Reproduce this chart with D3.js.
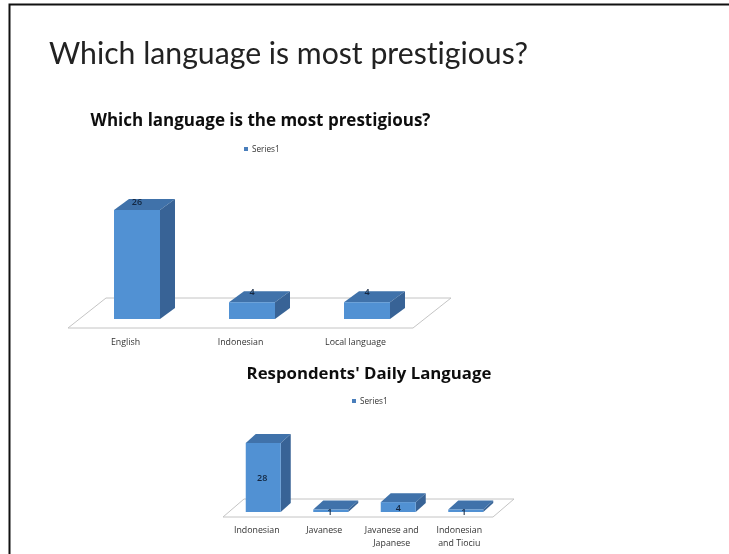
<!DOCTYPE html>
<html>
<head>
<meta charset="utf-8">
<title>Which language is most prestigious?</title>
<script src="https://cdn.jsdelivr.net/npm/d3@7"></script>
<style>
    html, body { margin: 0; padding: 0; background: #fff; }
    svg { display: block; }
    .chart-title { font-family: "Open Sans", sans-serif; font-weight: 700; fill: #111; text-anchor: middle; }
    .small { font-family: "Open Sans", sans-serif; fill: #333; }
</style>
</head>
<body>
<div id="slide"></div>
<script>
const slideTitle = "Which language is most prestigious?";
const seriesName = "Series1";

const prestigeTitle = "Which language is the most prestigious?";
const prestigeCategories = ["English", "Indonesian", "Local language"];
const prestigeValues = [26, 4, 4];

const dailyTitle = "Respondents' Daily Language";
const dailyCategories = ["Indonesian", "Javanese", "Javanese and|Japanese", "Indonesian|and Tiociu"];
const dailyValues = [28, 1, 4, 1];

class Bar3D {

    constructor(svg, title, categories, values, opts){
        this.svg = svg;
        this.title = title;
        this.categories = categories;
        this.values = values;
        this.opts = opts;
        this.draw();
    }

    draw(){
        let vis = this;
        let o = vis.opts;
        let g = vis.svg.append("g")
            .attr("filter", "url(#soft)");

        g.append("text")
            .attr("class", "chart-title")
            .attr("x", o.titleX)
            .attr("y", o.titleY)
            .style("font-size", o.titleSize + "px")
            .text(vis.title);

        // legend
        g.append("rect")
            .attr("x", o.legendX)
            .attr("y", o.legendY - 2)
            .attr("width", o.legendBox)
            .attr("height", o.legendBox)
            .attr("fill", "#4a7ebb");
        g.append("text")
            .attr("class", "small")
            .attr("x", o.legendX + o.legendBox + 4)
            .attr("y", o.legendY + 3)
            .style("font-size", "8.2px")
            .text(seriesName);

        vis.x = d3.scaleBand()
            .domain(vis.categories)
            .range([o.floorLeft, o.floorRight]);

        vis.y = d3.scaleLinear()
            .domain([0, o.maxValue])
            .range([o.baseY, o.topY]);

        // floor of the 3d plot
        g.append("path")
            .attr("d", `M${o.floorLeft},${o.floorY}L${o.floorRight},${o.floorY}L${o.floorRight + o.floorDx},${o.floorY - o.floorDy}L${o.floorLeft + o.floorDx},${o.floorY - o.floorDy}Z`)
            .attr("fill", "#fff")
            .attr("stroke", "#c4c4c4")
            .attr("stroke-width", 1);

        let bars = g.selectAll(".bar")
            .data(vis.values)
            .join("g")
            .attr("class", "bar");

        let left = (d, i) => vis.x(vis.categories[i]) + vis.x.bandwidth() / 2 + o.barShift - o.barWidth / 2;
        let right = (d, i) => left(d, i) + o.barWidth;

        // top face
        bars.append("path")
            .attr("fill", "#3f72aa")
            .attr("d", (d, i) => `M${left(d, i)},${vis.y(d)}L${left(d, i) + o.dx},${vis.y(d) - o.dy}L${right(d, i) + o.dx},${vis.y(d) - o.dy}L${right(d, i)},${vis.y(d)}Z`);

        // side face
        bars.append("path")
            .attr("fill", "#386496")
            .attr("d", (d, i) => `M${right(d, i)},${vis.y(d)}L${right(d, i) + o.dx},${vis.y(d) - o.dy}L${right(d, i) + o.dx},${o.baseY - o.dy}L${right(d, i)},${o.baseY}Z`);

        // front face
        bars.append("rect")
            .attr("fill", "#5191d3")
            .attr("x", left)
            .attr("y", d => vis.y(d))
            .attr("width", o.barWidth)
            .attr("height", d => o.baseY - vis.y(d));

        // value labels
        bars.append("text")
            .attr("class", "small")
            .attr("text-anchor", "middle")
            .attr("x", (d, i) => (left(d, i) + right(d, i)) / 2 + o.labelShift[i][0])
            .attr("y", (d, i) => vis.y(d) + o.labelShift[i][1])
            .style("font-size", "9px")
            .style("font-weight", 600)
            .style("fill", "#12263f")
            .text(d => d);

        // category labels, through the axis
        let axis = d3.axisBottom(vis.x).tickSize(0).tickPadding(0);
        let axisG = g.append("g")
            .attr("transform", `translate(0, ${o.axisY})`)
            .call(axis);
        axisG.select(".domain").remove();
        axisG.selectAll("text")
            .attr("class", "small")
            .style("font-size", "8.8px")
            .style("fill", "#333")
            .attr("y", 0)
            .attr("dy", 0)
            .each(function(d){
                let parts = d.split("|");
                let t = d3.select(this).text(null);
                parts.forEach((p, i) => {
                    t.append("tspan")
                        .attr("x", 0)
                        .attr("y", i * 12.5)
                        .text(p);
                });
            });
    }
}

const width = 729;
const height = 554;

const svg = d3.select("#slide").append("svg")
    .attr("width", width)
    .attr("height", height);

// soft edge like the scaled down screenshot
svg.append("defs").append("filter")
    .attr("id", "soft")
    .attr("filterUnits", "userSpaceOnUse")
    .attr("x", 0).attr("y", 0)
    .attr("width", width).attr("height", height)
    .append("feGaussianBlur")
    .attr("stdDeviation", 0.4);

svg.append("rect").attr("width", width).attr("height", height).attr("fill", "#fff");

// slide frame, only top and left are visible
svg.append("path")
    .attr("d", `M9.5,${height}V4.5H${width}`)
    .attr("fill", "none")
    .attr("stroke", "#111")
    .attr("stroke-width", 2);

svg.append("text")
    .attr("x", 49)
    .attr("y", 64)
    .attr("filter", "url(#soft)")
    .style("font-family", "Lato, sans-serif")
    .style("font-size", "30.2px")
    .style("font-variant-ligatures", "none")
    .style("fill", "#222")
    .text(slideTitle);

new Bar3D(svg, prestigeTitle, prestigeCategories, prestigeValues, {
    titleX: 260.5, titleY: 126, titleSize: 17,
    legendX: 244, legendY: 149, legendBox: 4,
    floorLeft: 68, floorRight: 413, floorY: 328, floorDx: 38, floorDy: 30,
    maxValue: 26, baseY: 319, topY: 210,
    barWidth: 46, barShift: 11.5, dx: 15, dy: 11,
    labelShift: [[0, -5.5], [0, -7], [0, -7]],
    axisY: 345
});

new Bar3D(svg, dailyTitle, dailyCategories, dailyValues, {
    titleX: 369, titleY: 379, titleSize: 16.8,
    legendX: 352, legendY: 401, legendBox: 4,
    floorLeft: 223, floorRight: 493, floorY: 517, floorDx: 21, floorDy: 18,
    maxValue: 28, baseY: 512, topY: 443,
    barWidth: 35, barShift: 6.5, dx: 10, dy: 9,
    labelShift: [[-1, 38], [-1, 5.5], [0, 9], [-2, 5.5]],
    axisY: 533
});
</script>
</body>
</html>
